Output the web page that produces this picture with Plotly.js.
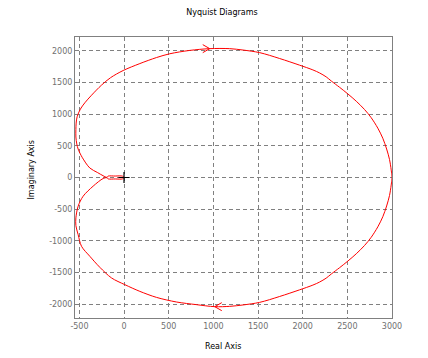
<!DOCTYPE html>
<html>
<head>
<meta charset="utf-8">
<script src="https://cdn.plot.ly/plotly-3.0.1.min.js"></script>
<style>html,body{margin:0;padding:0;background:#fff;}#chart{width:428px;height:358px;}</style>
</head>
<body>
<div id="chart"></div>
<script>
// Upper half of the Nyquist curve (from origin to the real-axis crossing at 3000)
var upperX = [0, -18, -100, -179, -193, -235, -300, -384, -470, -515, -530, -540, -540, -537, -526, -490, -440, -365, -253, -152, -11, 176, 362, 511, 735, 959, 1182, 1331, 1518, 1742, 1965, 2114, 2189, 2263, 2320, 2413, 2506, 2600, 2692, 2767, 2841, 2897, 2940, 2972, 2991, 3000];
var upperY = [0, 22, 23, 22, 3, 28, 80, 150, 320, 450, 530, 640, 760, 860, 960, 1080, 1180, 1300, 1460, 1577, 1690, 1800, 1895, 1955, 2008, 2036, 2036, 2014, 1973, 1880, 1775, 1700, 1652, 1590, 1525, 1425, 1320, 1205, 1075, 945, 780, 620, 450, 285, 120, 0];
// Lower half of the Nyquist curve (from origin to the real-axis crossing at 3000)
var lowerX = [0, -18, -100, -179, -193, -235, -347, -459, -515, -540, -540, -515, -477, -384, -272, -141, 8, 176, 362, 586, 810, 1015, 1182, 1331, 1518, 1742, 1965, 2114, 2189, 2263, 2320, 2413, 2506, 2600, 2692, 2767, 2841, 2897, 2940, 2972, 2991, 3000];
var lowerY = [0, -22, -23, -22, -3, -16, -137, -296, -454, -638, -760, -902, -1087, -1245, -1419, -1587, -1693, -1799, -1894, -1967, -2009, -2041, -2036, -2014, -1973, -1880, -1775, -1700, -1652, -1590, -1525, -1425, -1320, -1205, -1075, -945, -780, -620, -450, -285, -120, 0];
// Critical point
var critX = [-1];
var critY = [0];
// Arrow positions: index into upper / lower arrays
var upperArrowIdx = 25;
var lowerArrowIdx = 21;
// Ticks
var xTicks = [-500, 0, 500, 1000, 1500, 2000, 2500, 3000];
var xTickText = ['-500', '0', '500', '1000', '1500', '2000', '2500', '3000'];
var yTicks = [-2000, -1500, -1000, -500, 0, 500, 1000, 1500, 2000];
var yTickText = ['-2000', '-1500', '-1000', '-500', '0', '500', '1000', '1500', '2000'];

var pathX = upperX.concat(lowerX.slice().reverse());
var pathY = upperY.concat(lowerY.slice().reverse());

var FONT = 'DejaVu Sans, sans-serif';
var GRAY = '#808080';

var traces = [
  {x: pathX, y: pathY, type: 'scatter', mode: 'lines',
   line: {color: '#ff0000', width: 1, shape: 'spline', smoothing: 0.9}, hoverinfo: 'none'},
  {x: critX, y: critY, type: 'scatter', mode: 'markers',
   marker: {symbol: 'cross-thin', size: 8, line: {color: '#000000', width: 1.2}, color: '#000000'}, hoverinfo: 'none'}
];

function arrowShapes(tx, ty, dir) {
  var s = [];
  [4, -4].forEach(function (dy) {
    s.push({type: 'line', xref: 'x', yref: 'y', xsizemode: 'pixel', ysizemode: 'pixel',
      xanchor: tx, yanchor: ty, x0: 0, y0: 0, x1: -7 * dir, y1: dy,
      line: {color: '#ff0000', width: 1}});
  });
  return s;
}
var shapes = arrowShapes(upperX[upperArrowIdx], upperY[upperArrowIdx], 1)
  .concat(arrowShapes(lowerX[lowerArrowIdx], lowerY[lowerArrowIdx], -1));

var axisCommon = {
  showline: true, mirror: true, linecolor: GRAY, linewidth: 1,
  showgrid: true, gridcolor: GRAY, gridwidth: 1, griddash: '4px,3px',
  zeroline: false, ticks: '', tickmode: 'array',
  tickfont: {family: FONT, size: 8, color: '#707070'}
};

var layout = {
  width: 428, height: 358,
  margin: {l: 75, r: 36, t: 37, b: 40},
  paper_bgcolor: '#ffffff', plot_bgcolor: '#ffffff',
  showlegend: false,
  title: {text: 'Nyquist Diagrams', font: {family: FONT, size: 8, color: '#000000'},
          xref: 'container', x: 222 / 428, xanchor: 'center',
          yref: 'container', y: 1 - 12 / 358, yanchor: 'middle'},
  xaxis: Object.assign({}, axisCommon, {range: [-550, 3000], tickvals: xTicks, ticktext: xTickText}),
  yaxis: Object.assign({}, axisCommon, {range: [-2220, 2220], tickvals: yTicks, ticktext: yTickText}),
  shapes: shapes,
  annotations: [
    {text: 'Real Axis', xref: 'paper', yref: 'paper', x: (222.7 - 75) / 317, y: -(346 - 318) / 281,
     xanchor: 'center', yanchor: 'middle', showarrow: false, font: {family: FONT, size: 8, color: '#000000'}},
    {text: 'Imaginary Axis', xref: 'paper', yref: 'paper', x: (30.5 - 75) / 317, y: (318 - 170) / 281,
     xanchor: 'center', yanchor: 'middle', textangle: -90, showarrow: false,
     font: {family: FONT, size: 8, color: '#000000'}}
  ]
};

Plotly.newPlot('chart', traces, layout, {displayModeBar: false, staticPlot: true});
</script>
</body>
</html>
